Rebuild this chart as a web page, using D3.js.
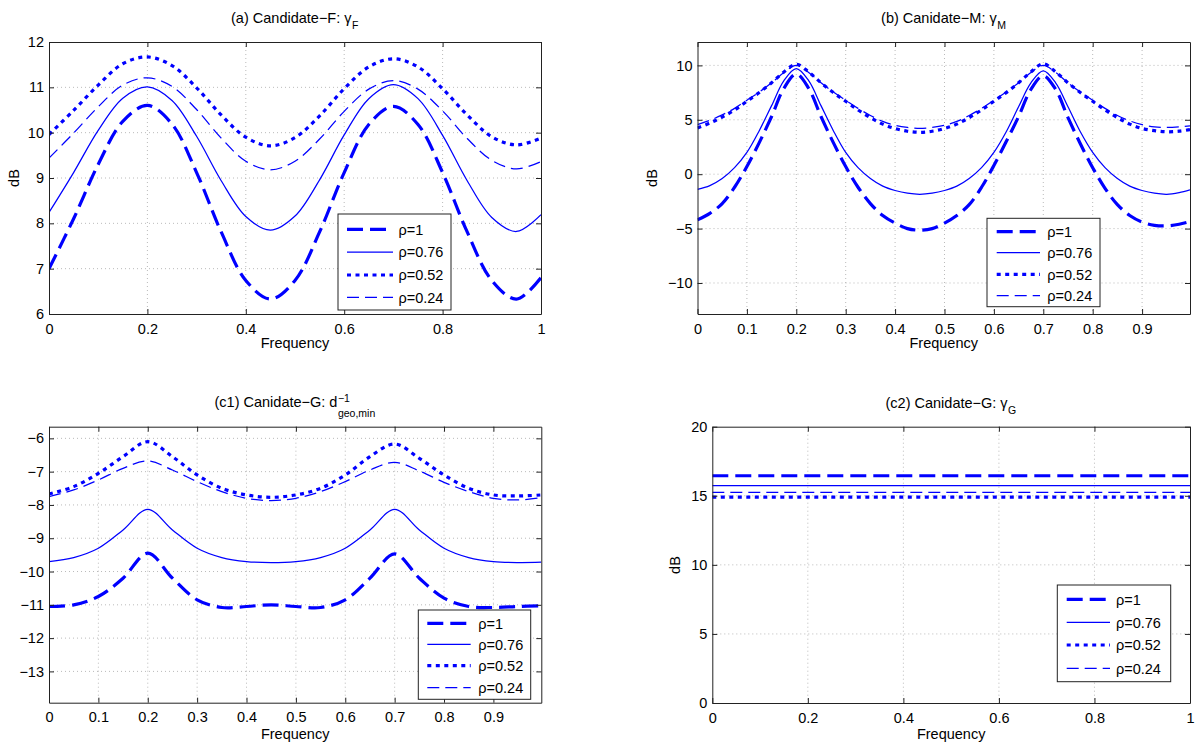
<!DOCTYPE html>
<html><head><meta charset="utf-8">
<script src="https://cdn.jsdelivr.net/npm/d3@7"></script>
<style>
body{margin:0;background:#fff}
svg{display:block}
text{font-family:"Liberation Sans",Arial,Helvetica,sans-serif;fill:#000}
</style>
</head><body>
<svg id="c" width="1200" height="748"></svg>
<script>
// ---------------- DATA ----------------
const seriesLabels = ["ρ=1", "ρ=0.76", "ρ=0.52", "ρ=0.24"];

const freqA = [0,0.05,0.1,0.15,0.2,0.25,0.3,0.35,0.4,0.45,0.5,0.55,0.6,0.65,0.7,0.75,0.8,0.85,0.9,0.95,1.0];
const freqB = [0,0.025,0.05,0.075,0.1,0.125,0.15,0.175,0.2,0.225,0.25,0.275,0.3,0.325,0.35,0.375,0.4,0.425,0.45,0.475,
               0.5,0.525,0.55,0.575,0.6,0.625,0.65,0.675,0.7,0.725,0.75,0.775,0.8,0.825,0.85,0.875,0.9,0.925,0.95,0.975,0.997];
const freqC1 = [0,0.05,0.1,0.15,0.2,0.25,0.3,0.35,0.4,0.45,0.5,0.55,0.6,0.65,0.7,0.75,0.8,0.85,0.9,0.95,0.997];
const freqC2 = [0, 1];

// (a) Candidate-F
const a_rho1   = [7.00, 8.10, 9.30, 10.25, 10.60, 10.19, 9.12, 7.81, 6.74, 6.33, 6.74, 7.81, 9.12, 10.18, 10.58, 10.18, 9.12, 7.81, 6.74, 6.33, 6.80];
const a_rho076 = [8.24, 9.12, 10.05, 10.76, 11.01, 10.71, 9.92, 8.94, 8.15, 7.85, 8.16, 8.96, 9.95, 10.75, 11.06, 10.75, 9.94, 8.94, 8.13, 7.82, 8.19];
const a_rho052 = [9.96, 10.49, 11.05, 11.52, 11.67, 11.48, 10.99, 10.39, 9.90, 9.71, 9.89, 10.37, 10.97, 11.45, 11.63, 11.45, 10.97, 10.39, 9.91, 9.73, 9.88];
const a_rho024 = [9.44, 9.99, 10.57, 11.05, 11.21, 11.02, 10.51, 9.88, 9.37, 9.18, 9.37, 9.86, 10.47, 10.96, 11.15, 10.96, 10.48, 9.87, 9.39, 9.20, 9.36];

// (b) Candidate-M
const b_rho1   = [-4.2, -3.6, -2.7, -1.2, 0.7, 2.9, 5.3, 7.9, 9.2, 7.9, 5.3, 2.9, 0.7, -1.2, -2.7, -3.8, -4.5, -5.0, -5.15, -5.0,
                  -4.5, -3.8, -2.8, -1.2, 0.8, 3.0, 5.3, 7.8, 9.05, 7.8, 5.2, 2.8, 0.6, -1.3, -2.8, -3.8, -4.4, -4.7, -4.75, -4.6, -4.35];
const b_rho076 = [-1.4, -1.05, -0.4, 0.6, 2.0, 4.0, 6.3, 8.6, 9.7, 8.6, 6.3, 4.0, 2.0, 0.6, -0.4, -1.1, -1.5, -1.75, -1.85, -1.75,
                  -1.5, -1.1, -0.4, 0.6, 2.0, 3.9, 6.2, 8.4, 9.5, 8.4, 6.2, 3.9, 2.0, 0.6, -0.4, -1.1, -1.5, -1.75, -1.85, -1.7, -1.45];
const b_rho052 = [4.25, 4.7, 5.25, 5.9, 6.7, 7.5, 8.4, 9.4, 10.1, 9.4, 8.4, 7.5, 6.7, 5.9, 5.2, 4.6, 4.2, 3.95, 3.85, 3.95,
                  4.2, 4.6, 5.2, 5.9, 6.7, 7.5, 8.4, 9.4, 10.15, 9.4, 8.4, 7.5, 6.7, 5.9, 5.2, 4.6, 4.2, 4.0, 3.9, 3.95, 4.1];
const b_rho024 = [4.55, 4.95, 5.45, 6.05, 6.8, 7.55, 8.4, 9.35, 10.0, 9.35, 8.4, 7.55, 6.8, 6.05, 5.4, 4.85, 4.5, 4.3, 4.2, 4.3,
                  4.5, 4.85, 5.4, 6.05, 6.8, 7.55, 8.4, 9.35, 10.0, 9.35, 8.4, 7.55, 6.8, 6.05, 5.4, 4.9, 4.55, 4.35, 4.3, 4.35, 4.45];

// (c1) Candidate-G: d_geo,min^-1
const c1_rho1   = [-11.05, -11.0, -10.75, -10.2, -9.45, -10.2, -10.85, -11.08, -11.05, -11.0, -11.05, -11.08, -10.85, -10.2, -9.47, -10.2, -10.8, -11.05, -11.08, -11.05, -11.03];
const c1_rho076 = [-9.7, -9.58, -9.3, -8.75, -8.13, -8.75, -9.3, -9.58, -9.7, -9.73, -9.7, -9.58, -9.3, -8.75, -8.13, -8.75, -9.3, -9.58, -9.7, -9.73, -9.72];
const c1_rho052 = [-7.67, -7.45, -7.05, -6.55, -6.1, -6.55, -7.1, -7.5, -7.7, -7.77, -7.7, -7.5, -7.1, -6.55, -6.17, -6.6, -7.1, -7.5, -7.7, -7.73, -7.7];
const c1_rho024 = [-7.75, -7.55, -7.25, -6.9, -6.68, -6.95, -7.3, -7.6, -7.8, -7.87, -7.8, -7.6, -7.3, -6.95, -6.72, -6.98, -7.32, -7.6, -7.8, -7.85, -7.78];

// (c2) Candidate-G: gamma_G (constant)
const c2_rho1   = [16.45, 16.45];
const c2_rho076 = [15.73, 15.73];
const c2_rho052 = [14.9, 14.9];
const c2_rho024 = [15.25, 15.25];

// tick labels
const ticksX5  = [0, 0.2, 0.4, 0.6, 0.8, 1];
const ticksX10 = [0, 0.1, 0.2, 0.3, 0.4, 0.5, 0.6, 0.7, 0.8, 0.9];
const ticksYa  = [6, 7, 8, 9, 10, 11, 12];
const ticksYb  = [-10, -5, 0, 5, 10];
const ticksYc1 = [-13, -12, -11, -10, -9, -8, -7, -6];
const ticksYc2 = [0, 5, 10, 15, 20];

// ---------------- STYLES ----------------
const BLUE = "#0000ff";
const styles = [
  {w: 3.2, dash: "16,7"},
  {w: 1.25, dash: null},
  {w: 3.2, dash: "4,4.5"},
  {w: 1.25, dash: "12,6"}
];
const FS = 14.5;

const svg = d3.select("#c");
let clipId = 0;

function drawPanel(cfg) {
  const x = d3.scaleLinear().domain(cfg.xdom).range([cfg.x0, cfg.x1]);
  const y = d3.scaleLinear().domain(cfg.ydom).range([cfg.y1, cfg.y0]);
  const g = svg.append("g");

  // grid
  g.selectAll("line.gx").data(cfg.xticks.filter(t => x(t) > cfg.x0 + 1 && x(t) < cfg.x1 - 1)).join("line")
    .attr("x1", d => x(d)).attr("x2", d => x(d)).attr("y1", cfg.y0).attr("y2", cfg.y1)
    .attr("stroke", "#a8a8a8").attr("stroke-width", 0.8).attr("stroke-dasharray", "1,3");
  g.selectAll("line.gy").data(cfg.yticks.filter(t => y(t) > cfg.y0 + 1 && y(t) < cfg.y1 - 1)).join("line")
    .attr("y1", d => y(d)).attr("y2", d => y(d)).attr("x1", cfg.x0).attr("x2", cfg.x1)
    .attr("stroke", "#a8a8a8").attr("stroke-width", 0.8).attr("stroke-dasharray", "1,3");

  // curves
  const id = "clip" + (clipId++);
  svg.append("clipPath").attr("id", id).append("rect")
    .attr("x", cfg.x0).attr("y", cfg.y0).attr("width", cfg.x1 - cfg.x0).attr("height", cfg.y1 - cfg.y0);
  const line = d3.line().x(d => x(d[0])).y(d => y(d[1])).curve(d3.curveCatmullRom.alpha(0.5));
  const cg = g.append("g").attr("clip-path", `url(#${id})`);
  cfg.series.forEach((vals, i) => {
    const pts = cfg.freq.map((f, k) => [f, vals[k]]);
    const p = cg.append("path").attr("d", line(pts)).attr("fill", "none")
      .attr("stroke", BLUE).attr("stroke-width", styles[i].w);
    if (styles[i].dash) p.attr("stroke-dasharray", styles[i].dash);
  });

  // axes
  const fmt = d3.format("");
  const styleAxis = sel => {
    sel.select(".domain").attr("stroke", "#222").attr("stroke-width", 1);
    sel.selectAll(".tick line").attr("stroke", "#222").attr("stroke-width", 1);
    sel.selectAll(".tick text").attr("font-size", FS).attr("fill", "#000")
      .style("font-family", '"Liberation Sans",Arial,sans-serif');
  };
  g.append("g").attr("transform", `translate(0,${cfg.y1})`)
    .call(d3.axisBottom(x).tickValues(cfg.xticks).tickFormat(fmt).tickSizeInner(-5).tickSizeOuter(0).tickPadding(9.5))
    .call(styleAxis);
  g.append("g").attr("transform", `translate(0,${cfg.y0})`)
    .call(d3.axisTop(x).tickValues(cfg.xticks).tickFormat("").tickSizeInner(-5).tickSizeOuter(0))
    .call(styleAxis);
  g.append("g").attr("transform", `translate(${cfg.x0},0)`)
    .call(d3.axisLeft(y).tickValues(cfg.yticks).tickFormat(fmt).tickSizeInner(-5).tickSizeOuter(0).tickPadding(5))
    .call(styleAxis);
  g.append("g").attr("transform", `translate(${cfg.x1},0)`)
    .call(d3.axisRight(y).tickValues(cfg.yticks).tickFormat("").tickSizeInner(-5).tickSizeOuter(0))
    .call(styleAxis);
  g.selectAll(".domain").attr("fill", "none");

  // x label
  g.append("text").attr("x", (cfg.x0 + cfg.x1) / 2).attr("y", cfg.xlabY)
    .attr("text-anchor", "middle").attr("font-size", FS).text("Frequency");
  // y label
  if (cfg.ylab) {
    g.append("text").attr("transform", `translate(${cfg.ylab[0]},${cfg.ylab[1]}) rotate(-90)`)
      .attr("text-anchor", "middle").attr("font-size", FS).text("dB");
  }

  // title
  const cx = (cfg.x0 + cfg.x1) / 2;
  const tg = g.append("g");
  const base = tg.append("text").attr("y", cfg.title.y).attr("font-size", FS).text(cfg.title.base);
  const bw = base.node().getComputedTextLength();
  let sw = 0, pw = 0, subT, supT;
  if (cfg.title.sub) {
    subT = tg.append("text").attr("y", cfg.title.y + cfg.title.subDy).attr("font-size", 10.5).text(cfg.title.sub);
    sw = subT.node().getComputedTextLength();
  }
  if (cfg.title.sup) {
    supT = tg.append("text").attr("y", cfg.title.y + cfg.title.supDy).attr("font-size", 10.5).text(cfg.title.sup);
    pw = supT.node().getComputedTextLength();
  }
  const total = bw + Math.max(sw, pw) + 1;
  const sx = cx - total / 2;
  base.attr("x", sx);
  if (subT) subT.attr("x", sx + bw + 0.5);
  if (supT) supT.attr("x", sx + bw + 0.5);

  // legend
  const L = cfg.legend;
  const lg = g.append("g");
  lg.append("rect").attr("x", L.bx).attr("y", L.by).attr("width", L.bw).attr("height", L.bh)
    .attr("fill", "#fff").attr("stroke", "#222").attr("stroke-width", 1);
  seriesLabels.forEach((lab, i) => {
    const ly = L.rows[i];
    const ln = lg.append("line").attr("x1", L.lx0).attr("x2", L.lx1).attr("y1", ly).attr("y2", ly)
      .attr("stroke", BLUE).attr("stroke-width", styles[i].w);
    if (styles[i].dash) ln.attr("stroke-dasharray", styles[i].dash);
    lg.append("text").attr("x", L.tx).attr("y", ly).attr("dy", "0.36em").attr("font-size", FS).text(lab);
  });
}

drawPanel({
  x0: 49, x1: 541, y0: 42, y1: 314, xdom: [0, 1], ydom: [6, 12],
  xticks: ticksX5, yticks: ticksYa, freq: freqA,
  series: [a_rho1, a_rho076, a_rho052, a_rho024],
  xlabY: 348, ylab: [18.5, 178],
  title: {base: "(a) Candidate\u2212F: \u03b3", sub: "F", y: 23, subDy: 6},
  legend: {bx: 338, by: 214, bw: 113, bh: 96, rows: [229.3, 252, 275, 297.3], lx0: 347, lx1: 393, tx: 398.5}
});
drawPanel({
  x0: 697.5, x1: 1190, y0: 42, y1: 314, xdom: [0, 0.997], ydom: [-12.85, 12.15],
  xticks: ticksX10, yticks: ticksYb, freq: freqB,
  series: [b_rho1, b_rho076, b_rho052, b_rho024],
  xlabY: 348, ylab: [657, 178],
  title: {base: "(b) Canidate\u2212M: \u03b3", sub: "M", y: 23, subDy: 6},
  legend: {bx: 987, by: 218.3, bw: 113, bh: 88.4, rows: [231.7, 252.7, 274.3, 295.7], lx0: 996.7, lx1: 1040, tx: 1047.3}
});
drawPanel({
  x0: 49, x1: 541.3, y0: 426.7, y1: 702.7, xdom: [0, 0.997], ydom: [-13.94, -5.65],
  xticks: ticksX10, yticks: ticksYc1, freq: freqC1,
  series: [c1_rho1, c1_rho076, c1_rho052, c1_rho024],
  xlabY: 739, ylab: null,
  title: {base: "(c1) Canidate\u2212G: d", sub: "geo,min", sup: "\u22121", y: 406.7, subDy: 10.5, supDy: -4.5},
  legend: {bx: 418.3, by: 610, bw: 112.4, bh: 89.3, rows: [623.3, 644.3, 665.7, 687.7], lx0: 427.3, lx1: 470.7, tx: 478.3}
});
drawPanel({
  x0: 712.3, x1: 1190, y0: 426.7, y1: 703, xdom: [0, 1], ydom: [0, 20],
  xticks: ticksX5, yticks: ticksYc2, freq: freqC2,
  series: [c2_rho1, c2_rho076, c2_rho052, c2_rho024],
  xlabY: 739, ylab: [680, 565],
  title: {base: "(c2) Canidate\u2212G: \u03b3", sub: "G", y: 408, subDy: 6},
  legend: {bx: 1057.3, by: 585, bw: 113.4, bh: 96.7, rows: [599.3, 622.3, 645, 668.3], lx0: 1066.7, lx1: 1110, tx: 1116}
});
</script>
</body></html>
